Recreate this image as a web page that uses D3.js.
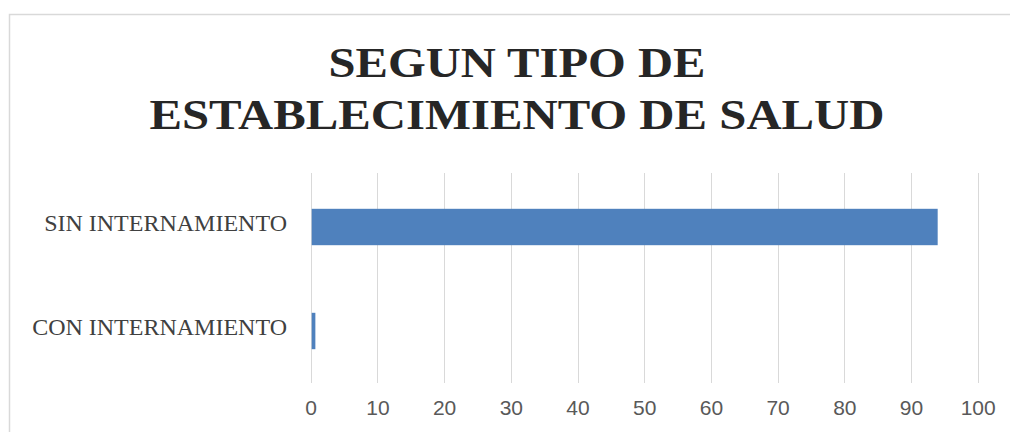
<!DOCTYPE html>
<html>
<head>
<meta charset="utf-8">
<script src="https://cdn.jsdelivr.net/npm/d3@7"></script>
<style>
  html, body { margin: 0; padding: 0; background: #fff; }
  svg { display: block; }
</style>
</head>
<body>
<script>
const categories = ["SIN INTERNAMIENTO", "CON INTERNAMIENTO"];
const values = [94.0, 0.7];
const tickValues = [0, 10, 20, 30, 40, 50, 60, 70, 80, 90, 100];
const titleLines = ["SEGUN TIPO DE", "ESTABLECIMIENTO DE SALUD"];

const W = 1010, H = 432;
const svg = d3.select("body").append("svg").attr("width", W).attr("height", H);

// chart border
svg.append("rect")
  .attr("x", 9.5).attr("y", 14.5)
  .attr("width", W + 20).attr("height", H + 20)
  .attr("fill", "#fff")
  .attr("stroke", "#d9d9d9").attr("stroke-width", 1.5);

// title
const titleW = [377, 735];
const titleY = [77, 129];
titleLines.forEach((t, i) => {
  svg.append("text")
    .attr("x", 517).attr("y", titleY[i])
    .attr("text-anchor", "middle")
    .attr("font-family", "'Liberation Serif', 'Times New Roman', serif")
    .attr("font-weight", "bold")
    .attr("font-size", 43)
    .attr("fill", "#262626")
    .attr("textLength", titleW[i])
    .attr("lengthAdjust", "spacingAndGlyphs")
    .text(t);
});

const x = d3.scaleLinear().domain([0, 100]).range([310.7, 977.7]);
const y = d3.scaleBand().domain(categories).range([175, 383])
  .paddingInner(0.65).paddingOuter(0.325);

// gridlines
svg.append("g").selectAll("line").data(tickValues).join("line")
  .attr("x1", d => Math.round(x(d)) + 0.5).attr("x2", d => Math.round(x(d)) + 0.5)
  .attr("y1", 173).attr("y2", 383)
  .attr("stroke", "#d9d9d9").attr("stroke-width", 1);

// bars
svg.append("g").selectAll("rect").data(categories).join("rect")
  .attr("x", x(0) + 1)
  .attr("y", d => y(d))
  .attr("width", (d, i) => x(values[i]) - x(0) - 1)
  .attr("height", y.bandwidth())
  .attr("fill", "#4f81bd");

// x axis tick labels
const xAxis = d3.axisBottom(x).tickValues(tickValues).tickSize(0).tickPadding(0);
const gx = svg.append("g").attr("transform", "translate(0,400)").call(xAxis);
gx.select(".domain").remove();
gx.selectAll("text")
  .attr("font-family", "'Liberation Sans', Arial, sans-serif")
  .attr("font-size", 21)
  .attr("fill", "#595959")
  .attr("dy", "0.71em");

// y axis category labels
const yAxis = d3.axisLeft(y).tickSize(0).tickPadding(0);
const gy = svg.append("g").attr("transform", "translate(287,0)").call(yAxis);
gy.select(".domain").remove();
gy.selectAll("text")
  .attr("font-family", "'Liberation Serif', 'Times New Roman', serif")
  .attr("font-size", 24)
  .attr("fill", "#404040")
  .attr("dy", "0.32em")
  .attr("y", -4);
</script>
</body>
</html>
